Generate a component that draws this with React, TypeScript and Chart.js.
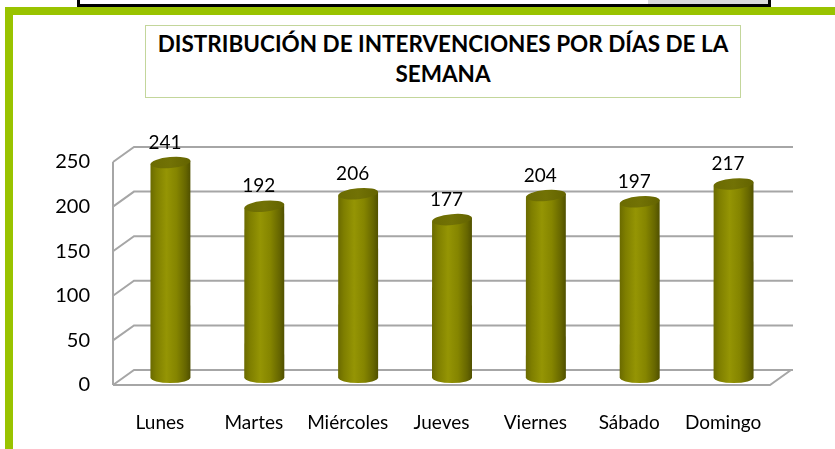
import React, { useEffect, useRef } from "react";
import { Chart, registerables } from "chart.js";

Chart.register(...registerables);

const categories = ["Lunes", "Martes", "Miércoles", "Jueves", "Viernes", "Sábado", "Domingo"];
const intervenciones = [241, 192, 206, 177, 204, 197, 217];
const yTicks = [0, 50, 100, 150, 200, 250];
const titleLines = ["DISTRIBUCIÓN DE INTERVENCIONES POR DÍAS DE LA", "SEMANA"];

const DX = 21;
const DY = -15;
const GRID = "#a6a6a6";

const wallPlugin = {
  id: "wall3d",
  beforeDatasetsDraw(chart: any) {
    const { ctx, chartArea, scales } = chart;
    const { left, right } = chartArea;
    const y = scales.y;
    const y0 = y.getPixelForValue(0);
    const yTop = y.getPixelForValue(yTicks[yTicks.length - 1]);
    ctx.save();
    ctx.strokeStyle = GRID;
    ctx.lineWidth = 2;
    ctx.lineJoin = "miter";
    ctx.beginPath();
    ctx.moveTo(left, yTop);
    ctx.lineTo(left, y0);
    for (const v of yTicks) {
      const py = y.getPixelForValue(v);
      ctx.moveTo(left, py);
      ctx.lineTo(left + DX, py + DY);
      ctx.lineTo(right + DX + 2, py + DY);
    }
    ctx.moveTo(left, y0);
    ctx.lineTo(right, y0);
    ctx.lineTo(right + DX, y0 + DY);
    ctx.stroke();
    ctx.restore();
  },
  afterDatasetsDraw(chart: any) {
    const { ctx } = chart;
    const meta = chart.getDatasetMeta(0);
    const data = chart.data.datasets[0].data;
    ctx.save();
    meta.data.forEach((el: any, i: number) => {
      const p = el.getProps(["x", "y", "base", "width"], true);
      const cx = p.x + DX / 2;
      const ty = p.y + DY / 2;
      const by = p.base + DY / 2;
      const rx = p.width / 2;
      const ry = 5.5;
      const rot = -0.09;
      const lx = cx - rx * Math.cos(rot);
      const lyTop = ty - rx * Math.sin(rot);
      const rxp = cx + rx * Math.cos(rot);
      const ryTop = ty + rx * Math.sin(rot);
      const g = ctx.createLinearGradient(cx - rx, 0, cx + rx, 0);
      g.addColorStop(0, "#6a6a00");
      g.addColorStop(0.15, "#7f7f00");
      g.addColorStop(0.4, "#959504");
      g.addColorStop(0.65, "#858500");
      g.addColorStop(0.88, "#666600");
      g.addColorStop(1, "#505000");
      ctx.beginPath();
      ctx.moveTo(lx, lyTop);
      ctx.lineTo(cx - rx, by);
      ctx.ellipse(cx, by, rx, ry, 0, Math.PI, 0, true);
      ctx.lineTo(rxp, ryTop);
      ctx.closePath();
      ctx.fillStyle = g;
      ctx.fill();
      const gt = ctx.createLinearGradient(cx - rx, 0, cx + rx, 0);
      gt.addColorStop(0, "#6b6b02");
      gt.addColorStop(0.5, "#727205");
      gt.addColorStop(1, "#636300");
      ctx.beginPath();
      ctx.ellipse(cx, ty, rx, ry, rot, 0, Math.PI * 2);
      ctx.fillStyle = gt;
      ctx.fill();

      ctx.fillStyle = "#000";
      ctx.font = "19px Lato";
      ctx.textAlign = "center";
      ctx.textBaseline = "alphabetic";
      ctx.fillText(String(data[i]), p.x + 5, ty - 14);
    });
    ctx.restore();
  },
};

export default function App() {
  const ref = useRef<HTMLCanvasElement | null>(null);

  useEffect(() => {
    if (!ref.current) return;
    const chart = new Chart(ref.current, {
      type: "bar",
      data: {
        labels: categories,
        datasets: [
          {
            label: "Intervenciones",
            data: intervenciones,
            backgroundColor: "rgba(0,0,0,0)",
            borderWidth: 0,
            barPercentage: 0.533,
            categoryPercentage: 0.8,
          },
        ],
      },
      options: {
        responsive: false,
        animation: false,
        events: [],
        layout: { padding: { left: 0, top: 162, right: 65, bottom: 0 } },
        plugins: {
          legend: { display: false },
          title: { display: false },
          tooltip: { enabled: false },
        },
        scales: {
          x: {
            offset: true,
            grid: { display: false, drawTicks: false },
            border: { display: false },
            ticks: {
              color: "#000",
              font: { family: "Lato", size: 19 },
              padding: 26,
              maxRotation: 0,
              autoSkip: false,
            },
            afterFit: (s: any) => {
              s.height = 64;
            },
          },
          y: {
            min: 0,
            max: 250,
            grid: { display: false, drawTicks: false },
            border: { display: false },
            ticks: {
              stepSize: 50,
              color: "#000",
              font: { family: "Lato", size: 20 },
              padding: 23,
            },
            afterFit: (s: any) => {
              s.width = 113;
            },
          },
        },
      },
      plugins: [wallPlugin],
    });
    return () => chart.destroy();
  }, []);

  return (
    <div
      style={{
        position: "fixed",
        left: 0,
        top: 0,
        width: 835,
        height: 449,
        background: "#fff",
        overflow: "hidden",
      }}
    >
      <div
        style={{
          position: "absolute",
          left: 77,
          top: -20,
          width: 694,
          height: 27,
          border: "3px solid #000",
          boxSizing: "border-box",
          background: "#fff",
        }}
      />
      <div style={{ position: "absolute", left: 648, top: 0, width: 120, height: 4, background: "#d9d9d9" }} />
      <div style={{ position: "absolute", left: 5, top: 7, width: 830, height: 8, background: "#99c300" }} />
      <div style={{ position: "absolute", left: 5, top: 7, width: 8, height: 442, background: "#99c300" }} />
      <canvas ref={ref} width={835} height={449} style={{ position: "absolute", left: 0, top: 0 }} />
      <div
        style={{
          position: "absolute",
          left: 145,
          top: 25,
          width: 596,
          height: 73,
          border: "1px solid #c3d69b",
          boxSizing: "border-box",
          paddingTop: 3,
          textAlign: "center",
          fontFamily: "Lato",
          fontWeight: 700,
          fontSize: 22.5,
          lineHeight: "30px",
          color: "#000",
          whiteSpace: "nowrap",
          background: "#fff",
        }}
      >
        {titleLines[0]}
        <br />
        {titleLines[1]}
      </div>
    </div>
  );
}
